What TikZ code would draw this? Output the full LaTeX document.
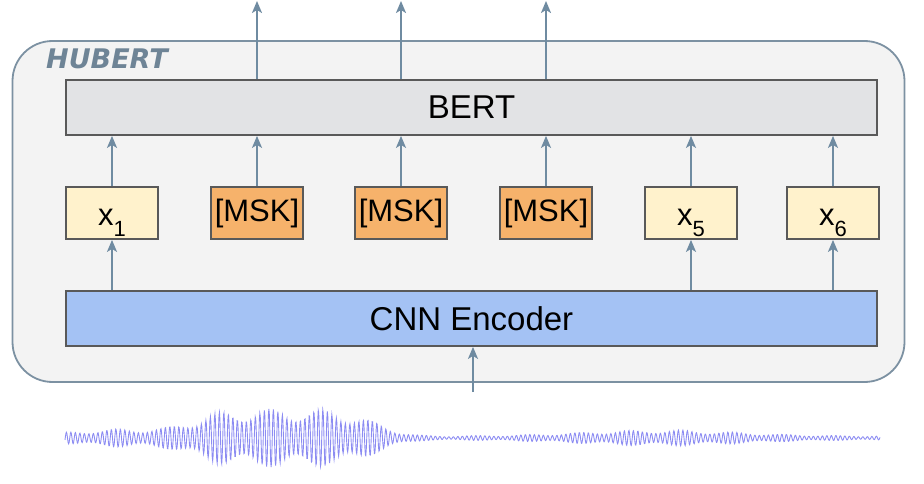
\documentclass[tikz,border=0pt]{standalone}
\usepackage{fontspec}
\setmainfont{Liberation Sans}
\newfontfamily\hubfont{DejaVu Sans}
\usetikzlibrary{arrows.meta}
\definecolor{arr}{HTML}{6F8BA1}
\definecolor{outer}{HTML}{7C91A2}
\definecolor{hubtext}{HTML}{6E8496}
\definecolor{outerfill}{HTML}{F3F3F3}
\definecolor{boxline}{HTML}{595959}
\definecolor{bertfill}{HTML}{E2E3E5}
\definecolor{xfill}{HTML}{FFF2CC}
\definecolor{mskfill}{HTML}{F6B26B}
\definecolor{cnnfill}{HTML}{A4C2F4}
\definecolor{wavecol}{HTML}{6666EE}
\begin{document}
\begin{tikzpicture}[x=1pt,y=-1pt,
  declare function={env(\x)=2+27*exp(-min(((\x-285)/100)*((\x-285)/100)*((\x-285)/100)*((\x-285)/100),30))+7*exp(-min(((\x-125)/75)*((\x-125)/75),30))+6*exp(-min(((\x-660)/110)*((\x-660)/110),30));},
  bar/.style={draw=boxline,line width=1.8pt,minimum width=811pt,minimum height=55pt,inner sep=0pt,font=\fontsize{33}{36}\selectfont},
  tok/.style={draw=boxline,line width=1.8pt,minimum width=92pt,minimum height=52pt,inner sep=0pt,font=\fontsize{31}{34}\selectfont},
  xtok/.style={tok,fill=xfill,text height=0pt,text depth=0pt},
  msktok/.style={tok,fill=mskfill},
  link/.style={draw=arr,line width=1.8pt,-{Stealth[length=12pt,width=10pt,inset=3pt]}},
  wave/.style={draw=wavecol,line width=0.9pt,opacity=0.75}]
\useasboundingbox (0,0) rectangle (924,484);
\node[draw=outer,fill=outerfill,line width=1.8pt,rounded corners=40pt,minimum width=892pt,minimum height=341pt,inner sep=0pt] (hub) at (458.5,211.5) {};
\node[anchor=west,text=hubtext,font=\hubfont\bfseries\itshape\fontsize{27}{29}\selectfont,inner sep=0pt] (hublabel) at (46,59) {HUBERT};
\node[bar,fill=bertfill] (bert) at (471.5,107.5) {BERT};
\node[bar,fill=cnnfill] (cnn) at (471.5,318.5) {CNN Encoder};
\newcommand{\subx}[1]{\raisebox{-13pt}{x}\raisebox{-24pt}{\fontsize{22}{22}\selectfont #1}}
\node[xtok] (t1) at (112,213) {\subx{1}};
\node[msktok] (t2) at (257,213) {[MSK]};
\node[msktok] (t3) at (401,213) {[MSK]};
\node[msktok] (t4) at (546,213) {[MSK]};
\node[xtok] (t5) at (691,213) {\subx{5}};
\node[xtok] (t6) at (833,213) {\subx{6}};
\foreach \t in {t1,t2,t3,t4,t5,t6} {\draw[link] (\t.north) -- (\t.north |- bert.south);}
\foreach \t in {t1,t5,t6} {\draw[link] (\t.south |- cnn.north) -- (\t.south);}
\coordinate (o2) at (257,1);
\coordinate (o3) at (401,1);
\coordinate (o4) at (546,1);
\foreach \o in {o2,o3,o4} {\draw[link] (\o |- bert.north) -- (\o);}
\coordinate (inp) at (473,392);
\draw[link] (inp) -- (inp |- cnn.south);
\draw[wave] plot[domain=65:880,samples=1800] (\x,{438+env(\x)*(0.78+0.22*sin(7*\x))*sin(80*mod(\x,4.5))});
\end{tikzpicture}
\end{document}
